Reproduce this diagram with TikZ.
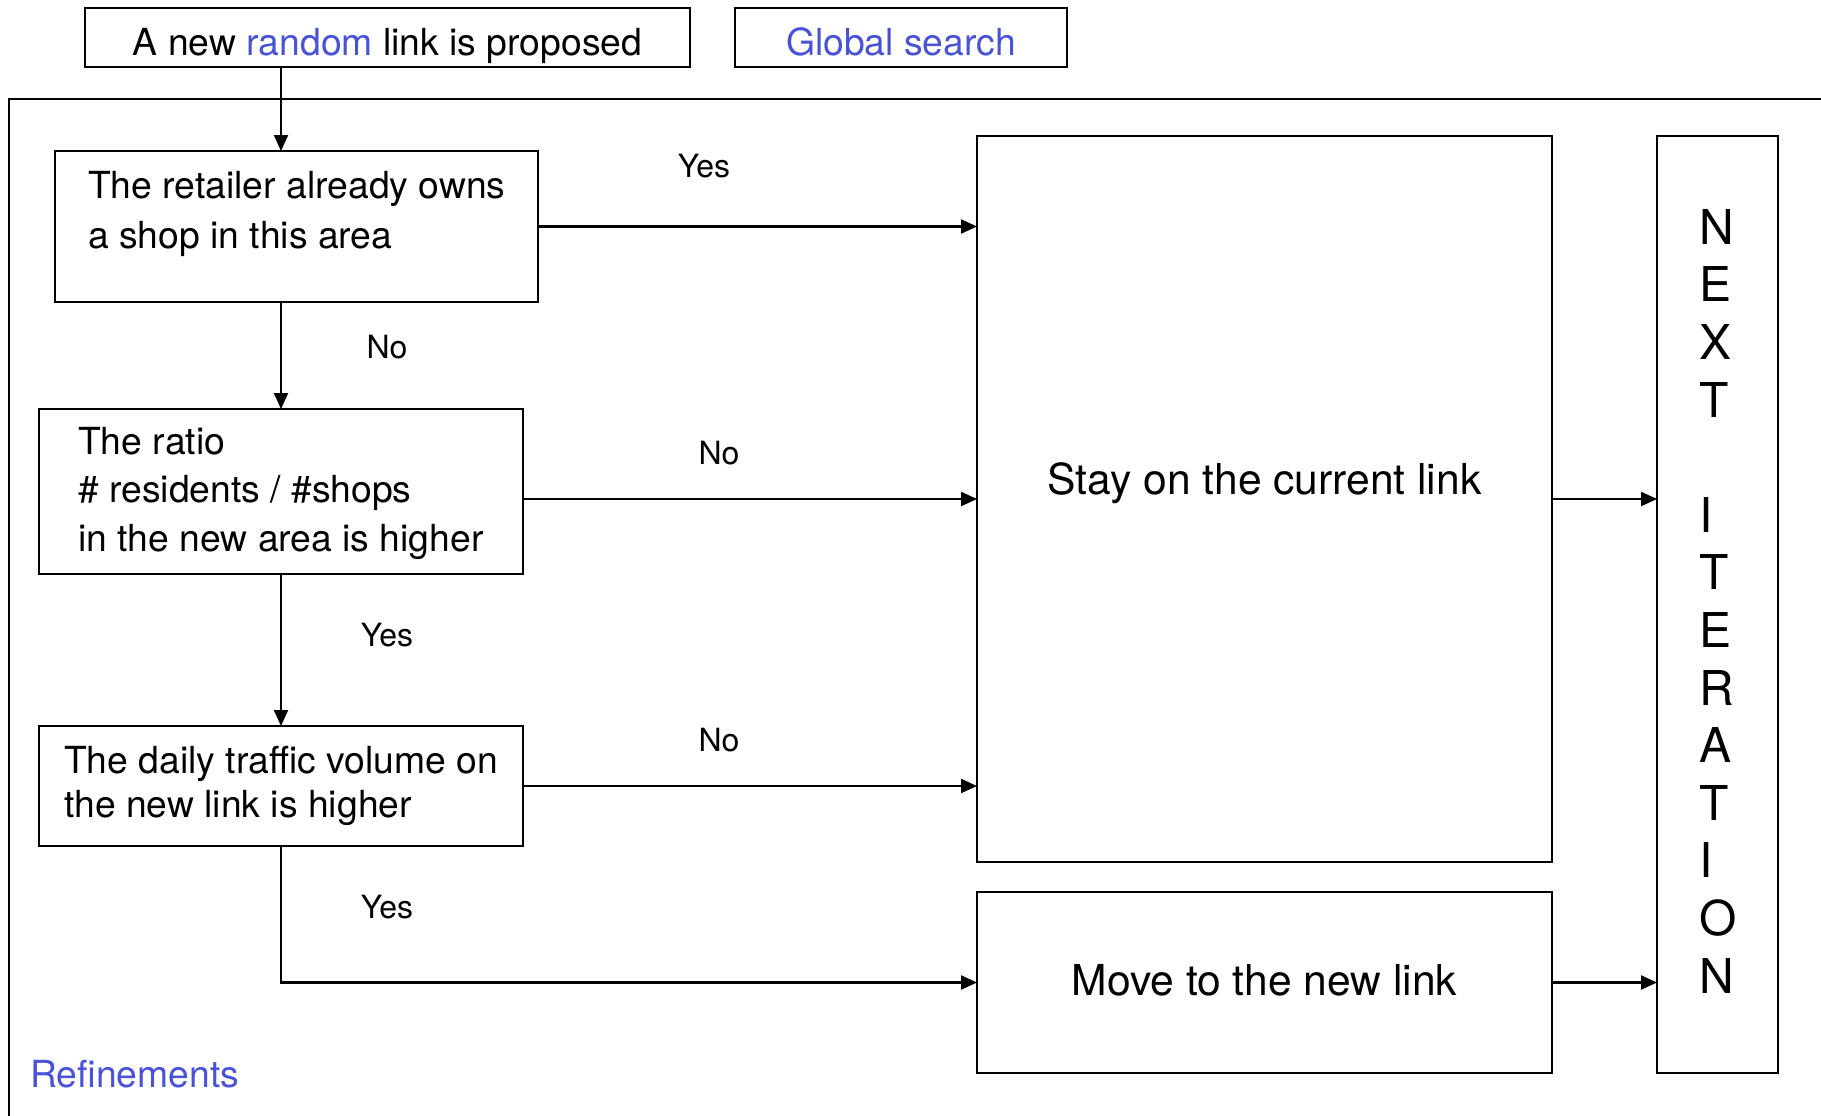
\documentclass[tikz,border=0pt]{standalone}
\usepackage{fontspec}
\setmainfont{TeX Gyre Heros}
\usetikzlibrary{arrows.meta}
\definecolor{linkblue}{RGB}{72,82,216}
\begin{document}
\begin{tikzpicture}[x=1pt,y=-1pt,
  box/.style={draw, line width=2.2pt, anchor=north west, inner sep=0pt, outer sep=0pt},
  body/.style={inner sep=0pt, align=left},
  answer/.style={font=\fontsize{32}{38}\selectfont, inner sep=0pt},
  arr/.style={line width=2.2pt, -{Triangle[length=16pt,width=14pt]}},
  frame/.style={line width=2.5pt}
]
\useasboundingbox (0,0) rectangle (1821,1116);
\clip (0,0) rectangle (1821,1116);

% header boxes
\node[box, minimum width=605pt, minimum height=59pt] (prop) at (85,8) {};
\node[body, anchor=base, font=\fontsize{37.3}{50}\selectfont] (propt) at (387.5,56)
  {A new \textcolor{linkblue}{random} link is proposed};
\node[box, minimum width=332pt, minimum height=59pt] (glob) at (735,8) {};
\node[body, anchor=base, text=linkblue, font=\fontsize{37.3}{50}\selectfont] (globt) at (901,56) {Global search};

% refinement frame, open to the right and bottom
\draw[frame] (1840,99) -- (9,99) -- (9,1140);
\node[body, anchor=base west, text=linkblue, font=\fontsize{37.3}{50}\selectfont] (reft) at (30,1087) {Refinements};

% decision boxes (text anchored on the baseline of its last line)
\node[box, minimum width=483pt, minimum height=151pt] (A) at (55,151) {};
\node[body, anchor=base west, font=\fontsize{37.3}{50}\selectfont] (At) at (88,248)
  {The retailer already owns\\a shop in this area};
\node[box, minimum width=484pt, minimum height=165pt] (B) at (39,409) {};
\node[body, anchor=base west, font=\fontsize{37.3}{48.5}\selectfont] (Bt) at (78,551)
  {The ratio\\\# residents / \#shops\\in the new area is higher};
\node[box, minimum width=484pt, minimum height=120pt] (C) at (39,726) {};
\node[body, anchor=base west, font=\fontsize{37.3}{44}\selectfont] (Ct) at (64,817)
  {The daily traffic volume on\\the new link is higher};

% outcome boxes
\node[box, minimum width=575pt, minimum height=726pt] (stay) at (977,136) {};
\node[body, anchor=base, font=\fontsize{42.6}{50}\selectfont] (stayt) at (1264.5,494) {Stay on the current link};
\node[box, minimum width=575pt, minimum height=181pt] (move) at (977,892) {};
\node[body, anchor=base, font=\fontsize{42.6}{50}\selectfont] (movet) at (1264.5,995) {Move to the new link};

% next iteration column, letters set flush left
\node[box, minimum width=121pt, minimum height=937pt] (next) at (1657,136) {};
\node[body, anchor=base west, font=\fontsize{48}{57.6}\selectfont] (nextt) at (1699,993)
  {N\\E\\X\\T\\[57.6pt]I\\T\\E\\R\\A\\T\\I\\O\\N};

% connectors
\draw[arr] (prop.south -| B.north) -- (A.north -| B.north);
\draw[arr] (A.east) -- (A.east -| stay.west);
\draw[arr] (A.south -| B.north) -- (B.north);
\draw[arr] (B.east |- stay.west) -- (stay.west);
\draw[arr] (B.south) -- (C.north);
\draw[arr] (C.east) -- (C.east -| stay.west);
\draw[arr] (C.south) |- (move.west);
\draw[arr] (stay.east) -- (stay.east -| next.west);
\draw[arr] (move.east) -- (move.east -| next.west);

% branch labels
\node[answer] (y1) at (704,166) {Yes};
\node[answer] (n1) at (387,347) {No};
\node[answer] (n2) at (719,453) {No};
\node[answer] (y2) at (387,635) {Yes};
\node[answer] (n3) at (719,740) {No};
\node[answer] (y3) at (387,907) {Yes};
\end{tikzpicture}
\end{document}
